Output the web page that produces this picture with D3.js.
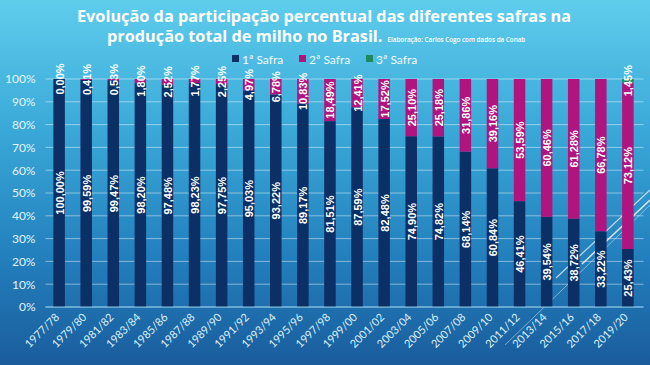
<!DOCTYPE html>
<html><head><meta charset="utf-8">
<script src="https://cdn.jsdelivr.net/npm/d3@7"></script>
<style>
html,body{margin:0;padding:0;overflow:hidden;}
svg{display:block;}
</style></head>
<body>
<script>
const categories = ["1977/78","1979/80","1981/82","1983/84","1985/86","1987/88","1989/90","1991/92","1993/94","1995/96","1997/98","1999/00","2001/02","2003/04","2005/06","2007/08","2009/10","2011/12","2013/14","2015/16","2017/18","2019/20"];
const safra1 = [100.00,99.59,99.47,98.20,97.48,98.23,97.75,95.03,93.22,89.17,81.51,87.59,82.48,74.90,74.82,68.14,60.84,46.41,39.54,38.72,33.22,25.43];
const safra2 = [0.00,0.41,0.53,1.80,2.52,1.77,2.25,4.97,6.78,10.83,18.49,12.41,17.52,25.10,25.18,31.86,39.16,53.59,60.46,61.28,66.78,73.12];
const safra3 = [0,0,0,0,0,0,0,0,0,0,0,0,0,0,0,0,0,0,0,0,0,1.45];
const seriesNames = ["1ª Safra","2ª Safra","3ª Safra"];
const yTicks = [0,10,20,30,40,50,60,70,80,90,100];

const W=650,H=365;
const colors = ["#0c2f66","#b0157f","#1f8a62"];
const svg = d3.select("body").append("svg").attr("width",W).attr("height",H);
const defs = svg.append("defs");
const grad = defs.append("linearGradient").attr("id","bg").attr("x1",0).attr("y1",0).attr("x2",0).attr("y2",1);
grad.append("stop").attr("offset","0%").attr("stop-color","#5fcdec");
grad.append("stop").attr("offset","35%").attr("stop-color","#3aa9d8");
grad.append("stop").attr("offset","70%").attr("stop-color","#2380bd");
grad.append("stop").attr("offset","100%").attr("stop-color","#1a5c9c");
svg.append("rect").attr("width",W).attr("height",H).attr("fill","url(#bg)");

// decorative slide lines
const deco = svg.append("g").attr("stroke","#ffffff").attr("fill","none");
deco.append("line").attr("x1",505).attr("y1",345).attr("x2",650).attr("y2",205).attr("stroke-width",0.8).attr("opacity",0.55);
deco.append("line").attr("x1",556).attr("y1",278).attr("x2",650).attr("y2",190).attr("stroke-width",1.2).attr("opacity",0.7);
deco.append("line").attr("x1",582).attr("y1",264).attr("x2",650).attr("y2",200).attr("stroke-width",1.5).attr("opacity",0.8);

const m = {l:45.5, r:8.5, t:79, b:58};
const x = d3.scaleBand().domain(categories).range([m.l, W-m.r]).paddingInner(0.575).paddingOuter(0.29);
const y = d3.scaleLinear().domain([0,100]).range([H-m.b, m.t]);

// grid
svg.append("g").selectAll("line").data(yTicks).join("line")
  .attr("x1",m.l).attr("x2",W-m.r+2).attr("y1",d=>y(d)).attr("y2",d=>y(d))
  .attr("stroke","#ffffff").attr("stroke-opacity",0.45).attr("stroke-width",1);

// y axis
const yAxis = svg.append("g").attr("transform",`translate(${m.l-7},0)`)
  .call(d3.axisLeft(y).tickValues(yTicks).tickFormat(d=>d+"%").tickSize(0));
yAxis.select(".domain").remove();
yAxis.selectAll("text").attr("fill","#e2f4fb").attr("font-family","Lato, 'Open Sans', sans-serif").attr("font-size","12px");

// stacked data
const rows = categories.map((c,i)=>({cat:c, s1:safra1[i], s2:safra2[i], s3:safra3[i]}));
const stack = d3.stack().keys(["s1","s2","s3"])(rows);

const fmt = v => v.toFixed(2).replace(".",",")+"%";
stack.forEach((layer,k)=>{
  const g = svg.append("g");
  g.selectAll("rect").data(layer).join("rect")
    .attr("x",d=>x(d.data.cat)).attr("width",x.bandwidth())
    .attr("y",d=>y(d[1])).attr("height",d=>y(d[0])-y(d[1]))
    .attr("fill",colors[k]);
});
// labels
stack.forEach((layer,k)=>{
  const g = svg.append("g");
  const dat = layer.filter(d=> k<2 || d[1]-d[0]>0);
  g.selectAll("text").data(dat).join("text")
    .attr("transform",d=>`translate(${x(d.data.cat)+x.bandwidth()/2+0.5},${y((d[0]+d[1])/2)}) rotate(-90)`)
    .attr("text-anchor","middle").attr("dominant-baseline","central")
    .attr("fill","#ffffff").attr("font-family","'Liberation Sans', Arial, sans-serif")
    .attr("font-weight","bold").attr("font-size","11px")
    .text(d=>fmt(d[1]-d[0]));
});

// axis line
svg.append("line").attr("x1",m.l).attr("x2",W-m.r+2).attr("y1",y(0)).attr("y2",y(0))
  .attr("stroke","#7fc3e6").attr("stroke-width",1.2);

// x labels
const xAxis = svg.append("g").attr("transform",`translate(0,${y(0)})`)
  .call(d3.axisBottom(x).tickSize(0));
xAxis.select(".domain").remove();
xAxis.selectAll("text")
  .attr("fill","#dcf1fb").attr("font-family","Lato, 'Open Sans', sans-serif").attr("font-size","11px")
  .attr("text-anchor","end").attr("dy","0").attr("y",0)
  .attr("transform","translate(1,11) rotate(-45)");

// title
const tf = "'Open Sans', Lato, sans-serif";
svg.append("text").attr("x",324).attr("y",22).attr("text-anchor","middle")
  .attr("fill","#ffffff").attr("font-family",tf).attr("font-weight","bold").attr("font-size","16.3px")
  .text("Evolução da participação percentual das diferentes safras na");
const t2 = svg.append("text").attr("x",107).attr("y",42)
  .attr("fill","#ffffff").attr("font-family",tf).attr("font-size","16.3px");
t2.append("tspan").attr("font-weight","bold").text("produção total de milho no Brasil.");
t2.append("tspan").attr("font-size","6.3px").attr("font-weight","600").attr("dx","5").text("Elaboração: Carlos Cogo com dados da Conab");

// legend
const lg = svg.append("g").attr("transform","translate(232,59)");
const lx = [0,67,134];
seriesNames.forEach((n,i)=>{
  lg.append("rect").attr("x",lx[i]).attr("y",-4).attr("width",7).attr("height",7).attr("fill",colors[i]);
  lg.append("text").attr("x",lx[i]+10).attr("y",0).attr("dominant-baseline","central")
    .attr("fill","#f0fafd").attr("font-family","Lato, sans-serif").attr("font-size","12px").text(n);
});
</script>
</body></html>
